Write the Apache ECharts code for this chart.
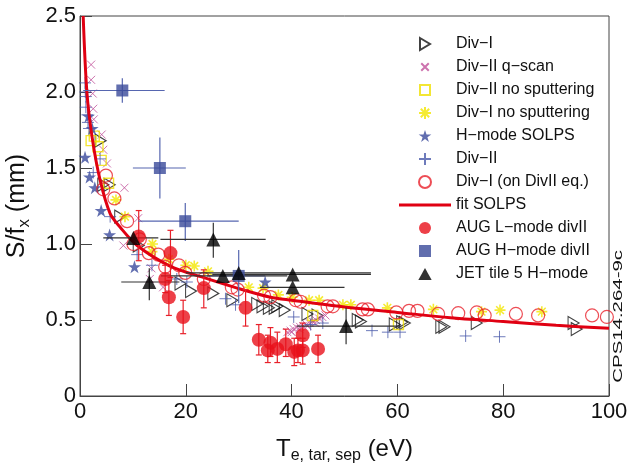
<!DOCTYPE html>
<html>
<head>
<meta charset="utf-8">
<script src="https://cdn.jsdelivr.net/npm/echarts@6/dist/echarts.min.js"></script>
<style>
  html, body { margin: 0; padding: 0; background: #fff; }
  #chart { width: 641px; height: 466px; }
</style>
</head>
<body>
<div id="chart"></div>
<script>
// Axis ticks
const xTicks = [0, 20, 40, 60, 80, 100];
const yTicks = [0, 0.5, 1.0, 1.5, 2.0, 2.5];

// Series names, in legend order
const names = [
  'Div\u2212I', 'Div\u2212II q\u2212scan', 'Div\u2212II no sputtering', 'Div\u2212I no sputtering',
  'H\u2212mode SOLPS', 'Div\u2212II', 'Div\u2212I (on DivII eq.)', 'fit SOLPS',
  'AUG L\u2212mode divII', 'AUG H\u2212mode divII', 'JET tile 5 H\u2212mode'
];

// [Te, S/fx]
const divI = [[3.9,1.68],[4.4,1.39],[5.6,1.39],[7.6,1.18],[11.1,0.99],[19,0.74],[21,0.69],[25.2,0.675],
  [28.8,0.63],[33.5,0.605],[34.5,0.59],[35.7,0.58],[36.8,0.58],[37.3,0.59],[38.7,0.565],[43,0.54],
  [44.9,0.53],[52.5,0.50],[53.1,0.49],[59.5,0.47],[60.9,0.485],[61.4,0.48],[68.3,0.455],[68.9,0.455],
  [75,0.48],[93.3,0.48],[93.9,0.44]];
const qScan = [[2.1,2.18],[2.1,2.08],[2.4,1.99],[2.5,1.89],[2.6,1.82],[4.1,1.72],[4.4,1.62],[5.1,1.53],
  [8.4,1.37],[11,1.17],[8.2,0.99],[13.5,0.84],[13.2,0.77],[15.7,0.715],
  [39.2,0.42],[39.8,0.43],[40.4,0.44],[41,0.45],[41.6,0.455],[42.2,0.46],[42.8,0.47],[43.4,0.48],
  [44,0.49],[44.6,0.5],[45.2,0.51],[45.8,0.52],[46.4,0.53],[40,0.42],[41.5,0.44],[43,0.46],[44.5,0.48]];
const divIINoSput = [[2.1,1.68],[2.7,1.71],[3.4,1.64],[4.0,1.55],[5.4,1.40],[44,0.53],[60.2,0.47]];
const divINoSput = [[6.8,1.29],[8.5,1.18],[13.7,1.0],[13.6,0.95],[16.8,0.9],[20,0.86],[21.6,0.855],
  [24.2,0.82],[31.9,0.715],[34.6,0.71],[37.5,0.665],[40.1,0.65],[43.3,0.63],[45.2,0.63],[49.7,0.60],
  [51.2,0.60],[58.1,0.58],[66.8,0.57],[75.9,0.555],[79.4,0.565],[87.3,0.555]];
const hModeSolps = [[0.95,1.57],[1.8,1.44],[2.8,1.37],[4.0,1.22],[5.6,1.06],[10.3,0.85],[35,0.75],
  [1.6,1.84],[2.3,1.76]];
const divII = [[0.95,2.06],[1.0,2.0],[1.1,1.97],[1.1,1.9],[1.4,1.85],[1.5,1.8],[1.7,1.76],[3.8,1.56],
  [2.5,1.47],[5.7,1.18],[10.8,0.93],[13.6,0.86],[18.3,0.77],[20.2,0.75],[27.5,0.64],[29.4,0.6],
  [40.4,0.52],[43.6,0.47],[45.9,0.48],[55.2,0.43],[58.2,0.42],[60.5,0.42],[72.9,0.395],[79.3,0.39]];
const divIOnDivII = [[4.9,1.45],[4.4,1.36],[6.5,1.30],[8.9,1.15],[10.1,1.0],[11.3,1.03],[13,0.94],
  [14.8,0.93],[16.1,0.85],[18.7,0.86],[19.9,0.81],[23.4,0.77],[28.7,0.715],[29.8,0.70],[34.8,0.66],
  [36,0.65],[40.8,0.63],[41.7,0.62],[46.8,0.59],[47.8,0.59],[53.4,0.57],[54.4,0.57],[59.8,0.55],
  [62.2,0.56],[63.8,0.56],[67.7,0.54],[71.5,0.545],[75,0.55],[76.5,0.53],[82.4,0.54],[86.6,0.53],
  [96.8,0.53],[99.6,0.52]];
const fitSolps = [[0.6,2.5],[1.3,2.0],[2.3,1.7],[3.8,1.42],[5.7,1.2],[7.6,1.11],[10.8,0.99],[17,0.855],
  [23.3,0.78],[29.7,0.71],[36,0.65],[40,0.63],[50,0.585],[60,0.55],[70,0.515],[80,0.49],[90,0.465],
  [100,0.445]];

// [Te, S/fx, Te low, Te high, S/fx low, S/fx high]
const augL = [[11.1,1.05,11.1,11.1,0.89,1.22],[17.1,0.94,17.1,17.1,0.78,1.09],[16.1,0.77,16.1,16.1,0.68,0.86],
  [16.8,0.65,16.8,16.8,0.53,0.76],[19.5,0.52,19.5,19.5,0.41,0.63],[23.4,0.71,23.4,23.4,0.58,0.83],
  [31.3,0.58,31.3,31.3,0.46,0.70],[33.8,0.37,33.8,33.8,0.27,0.47],[35.5,0.30,35.5,35.5,0.22,0.40],
  [36,0.35,36,36,0.26,0.45],[37.3,0.31,37.3,37.3,0.22,0.42],[38.9,0.34,38.9,38.9,0.26,0.44],
  [40.5,0.29,40.5,40.5,0.20,0.38],[41.2,0.30,41.2,41.2,0.22,0.38],[42.1,0.40,42.1,42.1,0.32,0.48],
  [42.1,0.30,42.1,42.1,0.21,0.38],[45,0.31,45,45,0.22,0.40]];
const augH = [[8.0,2.01,0.6,16,1.93,2.09],[15.1,1.50,10,20,1.30,1.70],[19.9,1.15,11,30,1.02,1.27],
  [30,0.79,24,35,0.61,0.96]];
const jet = [[10.1,1.04,4.4,14.8,1.04,1.04],[25.2,1.03,15.2,35.1,0.91,1.14],[13.1,0.75,7.8,18.8,0.63,0.84],
  [27,0.79,15.3,39.2,0.79,0.79],[30,0.81,20,55,0.81,0.81],[40.2,0.80,25,55,0.80,0.80],
  [40.2,0.715,34,50,0.715,0.715],[50.3,0.46,41,60.7,0.34,0.58]];

const FONT = 'Liberation Sans, Arial, sans-serif';

const SYM = {
  triR: 'path://M0,0L10,6L0,12Z',
  cross: 'path://M0,0L10,10M10,0L0,10',
  square: 'path://M0,0L10,0L10,10L0,10Z',
  aster: 'path://M5,0L5,10M0,5L10,5M1.5,1.5L8.5,8.5M8.5,1.5L1.5,8.5',
  star: 'path://M5,0L6.2,3.6L10,3.6L6.9,5.8L8.1,9.5L5,7.2L1.9,9.5L3.1,5.8L0,3.6L3.8,3.6Z',
  plus: 'path://M5,0L5,10M0,5L10,5',
  triUp: 'path://M5,0L10,9L0,9Z'
};

function errorBars(color, cap, width) {
  return function (params, api) {
    const x = api.value(0), y = api.value(1);
    const xl = api.value(2), xh = api.value(3), yl = api.value(4), yh = api.value(5);
    const st = { stroke: color, lineWidth: width };
    const ch = [];
    if (xl !== xh) {
      const a = api.coord([xl, y]), b = api.coord([xh, y]);
      ch.push({ type: 'line', shape: { x1: a[0], y1: a[1], x2: b[0], y2: b[1] }, style: st });
    }
    if (yl !== yh) {
      const a = api.coord([x, yl]), b = api.coord([x, yh]);
      ch.push({ type: 'line', shape: { x1: a[0], y1: a[1], x2: b[0], y2: b[1] }, style: st });
      if (cap) {
        ch.push({ type: 'line', shape: { x1: a[0] - cap, y1: a[1], x2: a[0] + cap, y2: a[1] }, style: st });
        ch.push({ type: 'line', shape: { x1: b[0] - cap, y1: b[1], x2: b[0] + cap, y2: b[1] }, style: st });
      }
    }
    return { type: 'group', children: ch };
  };
}

function scatter(name, data, symbol, size, style, z) {
  return { name, type: 'scatter', data, symbol, symbolSize: size, itemStyle: style, z: z || 2,
           emphasis: { disabled: true } };
}
const hollow = (c, w) => ({ color: 'rgba(0,0,0,0)', borderColor: c, borderWidth: w });

// Legend entries; a few icons get their own shapes (a bare line for the fit, a padded cross)
const legendData = names.map(n => ({ name: n }));
legendData[1].icon = 'path://M-3,-3M13,13M0,0L10,10M10,0L0,10';
legendData[2].icon = 'path://M-1,-1M11,11M0,0L10,0L10,10L0,10Z';
legendData[7].icon = 'path://M0,0L100,0L100,6L0,6Z';

const chart = echarts.init(document.getElementById('chart'), null, { renderer: 'canvas' });
chart.setOption({
  animation: false,
  backgroundColor: '#fff',
  grid: { left: 80, right: 32, top: 16, bottom: 70, show: true, borderColor: '#444', borderWidth: 1,
          backgroundColor: 'transparent', containLabel: false, outerBoundsMode: 'none' },
  xAxis: {
    type: 'value', min: xTicks[0], max: xTicks[xTicks.length - 1], interval: 20,
    axisLine: { lineStyle: { color: '#444', width: 1 } },
    axisTick: { inside: true, length: 12, lineStyle: { color: '#444' } },
    splitLine: { show: false },
    axisLabel: { fontFamily: FONT, fontSize: 22, color: '#111', margin: 5 },
    name: '{t|T}{s|e, tar, sep}{t| (eV)}', nameLocation: 'middle', nameGap: 38,
    nameTextStyle: { rich: {
      t: { fontFamily: FONT, fontSize: 24, color: '#111', lineHeight: 30, verticalAlign: 'middle' },
      s: { fontFamily: FONT, fontSize: 16, color: '#111', lineHeight: 30, verticalAlign: 'bottom' } } }
  },
  yAxis: {
    type: 'value', min: yTicks[0], max: yTicks[yTicks.length - 1], interval: 0.5,
    axisLine: { lineStyle: { color: '#444', width: 1 } },
    axisTick: { inside: true, length: 12, lineStyle: { color: '#444' } },
    splitLine: { show: false },
    axisLabel: { fontFamily: FONT, fontSize: 22, color: '#111', margin: 4,
                 formatter: v => (v === 0 ? '0' : v.toFixed(1)) },
    name: '{t|S/f}{s|x}{t| (mm)}', nameLocation: 'middle', nameGap: 47, nameRotate: 90,
    nameMoveOverlap: false,
    nameTextStyle: { rich: {
      t: { fontFamily: FONT, fontSize: 25, color: '#111', lineHeight: 32, verticalAlign: 'middle' },
      s: { fontFamily: FONT, fontSize: 17, color: '#111', lineHeight: 32, verticalAlign: 'bottom' } } }
  },
  legend: {
    orient: 'vertical', left: 394, top: 30, itemWidth: 52, itemHeight: 12, itemGap: 5,
    data: legendData, selectedMode: false,
    textStyle: { fontFamily: FONT, fontSize: 16, color: '#111', lineHeight: 18 }
  },
  graphic: [{
    type: 'text', left: 613, top: 250, rotation: Math.PI / 2, scaleX: 1.7,
    style: { text: 'CPS14.264-9c', fontFamily: FONT, fontSize: 12, fill: '#111' }
  }],
  series: [
    scatter(names[0], divI, SYM.triR, [11, 13], hollow('#111', 1.1)),
    scatter(names[1], qScan, SYM.cross, 8, hollow('#c0509a', 1)),
    scatter(names[2], divIINoSput, SYM.square, 10, hollow('#f0e000', 1.4)),
    scatter(names[3], divINoSput, SYM.aster, 11, hollow('#f2e600', 1.6)),
    scatter(names[4], hModeSolps, SYM.star, 13, { color: '#3a4a9c' }),
    scatter(names[5], divII, SYM.plus, 12, hollow('#4a5aaa', 1)),
    scatter(names[6], divIOnDivII, 'circle', 13, hollow('#e8202a', 1.2)),
    { name: names[7], type: 'line', data: fitSolps, smooth: 0.3, symbol: 'none', z: 4,
      lineStyle: { color: '#e00012', width: 3 }, itemStyle: { color: '#e00012' } },
    { type: 'custom', data: augL, renderItem: errorBars('#e8202a', 3, 1.2), z: 5, encode: { x: 0, y: 1 } },
    scatter(names[8], augL.map(d => [d[0], d[1]]), 'circle', 14, { color: '#e8101a' }, 6),
    { type: 'custom', data: augH, renderItem: errorBars('#5666b0', 0, 1.2), z: 5, encode: { x: 0, y: 1 } },
    scatter(names[9], augH.map(d => [d[0], d[1]]), SYM.square, 12, { color: '#3a4a9a' }, 6),
    { type: 'custom', data: jet, renderItem: errorBars('#333', 0, 1.2), z: 5, encode: { x: 0, y: 1 } },
    scatter(names[10], jet.map(d => [d[0], d[1]]), SYM.triUp, 14, { color: '#000' }, 7)
  ]
});
</script>
</body>
</html>
